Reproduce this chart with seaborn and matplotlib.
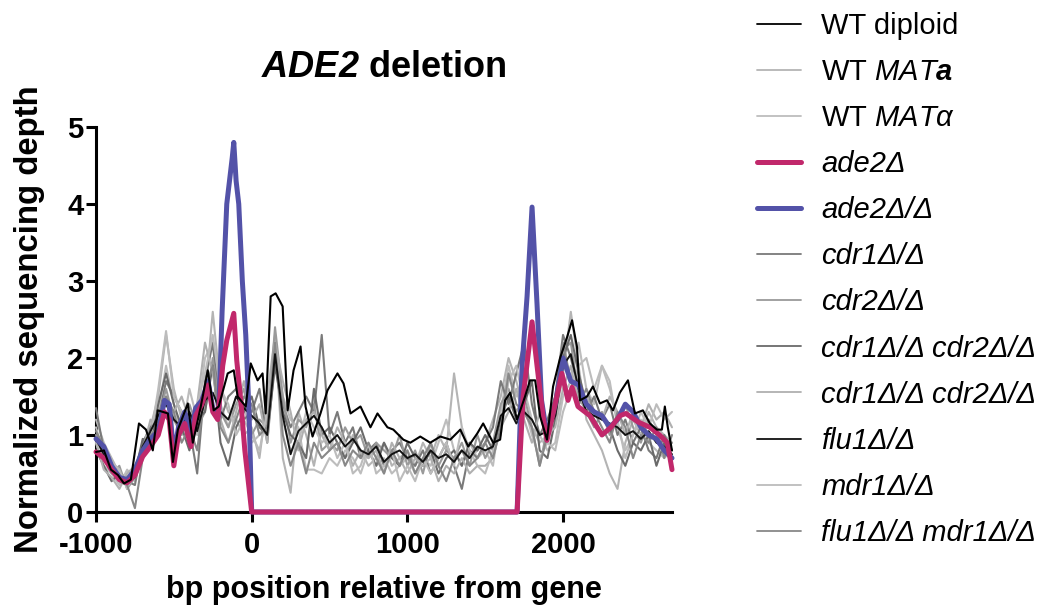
import numpy as np
import pandas as pd
import matplotlib
matplotlib.use("Agg")
import matplotlib.pyplot as plt
import seaborn as sns

sns.set_style("ticks")
plt.rcParams['font.family'] = ['Liberation Sans', 'DejaVu Sans']
plt.rcParams['mathtext.fontset'] = 'custom'
plt.rcParams['mathtext.rm'] = 'Liberation Sans'
plt.rcParams['mathtext.it'] = 'Liberation Sans:italic'
plt.rcParams['mathtext.bf'] = 'Liberation Sans:bold'
plt.rcParams['mathtext.bfit'] = 'Liberation Sans:bold:italic'
plt.rcParams['axes.unicode_minus'] = False
for key in ['text.color', 'axes.labelcolor', 'xtick.color', 'ytick.color', 'axes.edgecolor']:
    plt.rcParams[key] = 'black'

# ---------------- data ----------------
GRID = list(range(-1000, 2701, 50))  # 75 positions shared by the grey strains

WT_DIPLOID_POS = [-1000, -949, -904, -859, -820, -776, -724, -679, -635, -603,
                  -538, -506, -474, -410, -378, -327, -282, -244, -212, -154,
                  -115, -90, -38, -6, 38, 70, 90, 122, 154, 199,
                  231, 269, 314, 346, 391, 442, 487, 551, 590, 635,
                  699, 763, 808, 872, 910, 974, 1019, 1083, 1147, 1212,
                  1276, 1340, 1391, 1449, 1487, 1551, 1596, 1628, 1660, 1705,
                  1756, 1788, 1821, 1853, 1897, 1936, 1981, 2026, 2058, 2090,
                  2109, 2154, 2192, 2237, 2282, 2321, 2365, 2417, 2462, 2513,
                  2558, 2603, 2635, 2654, 2673, 2700]
WT_DIPLOID = [0.78, 0.80, 0.55, 0.48, 0.37, 0.42, 1.15, 1.07, 0.80, 1.32,
              1.28, 0.65, 1.07, 1.41, 0.90, 1.37, 1.84, 1.32, 1.37, 1.80,
              1.84, 1.50, 1.37, 1.93, 1.71, 1.80, 1.28, 2.80, 2.84, 2.67,
              1.32, 1.84, 2.15, 1.37, 0.98, 1.28, 1.58, 1.80, 1.67, 1.28,
              1.37, 1.10, 1.28, 1.10, 1.07, 0.94, 0.90, 0.98, 0.90, 0.98,
              0.94, 1.07, 0.85, 1.02, 1.15, 0.90, 0.94, 1.45, 1.55, 1.20,
              1.50, 1.71, 1.71, 1.24, 0.94, 1.63, 2.00, 2.27, 2.49, 2.14,
              1.45, 1.50, 1.63, 1.41, 1.45, 1.32, 1.55, 1.71, 1.28, 1.32,
              1.15, 1.07, 1.07, 1.37, 1.10, 0.80]

WT_MATA = [1.20, 0.90, 0.70, 0.50, 0.45, 0.55, 0.90, 1.10, 1.50, 2.30,
           1.60, 1.20, 1.30, 1.00, 1.50, 2.60, 1.60, 1.30, 1.20, 1.00,
           1.10, 0.70, 1.50, 2.30, 0.70, 0.25, 1.30, 1.00, 0.60, 1.10,
           0.80, 0.90, 0.70, 1.00, 0.80, 0.60, 0.70, 0.90, 0.60, 0.70,
           0.80, 0.60, 0.90, 0.70, 1.00, 0.80, 1.80, 1.10, 0.70, 0.80,
           0.90, 1.20, 1.50, 2.00, 1.70, 1.30, 1.10, 0.90, 1.00, 1.20,
           1.80, 2.60, 1.90, 1.20, 1.00, 0.80, 0.50, 0.30, 0.90, 1.20,
           1.00, 1.30, 1.10, 1.00, 0.90]
WT_MATALPHA = [0.90, 0.60, 0.50, 0.35, 0.55, 0.40, 0.80, 1.00, 1.30, 1.90,
               1.40, 1.00, 1.60, 1.20, 2.00, 2.20, 1.40, 1.10, 1.50, 1.40,
               0.90, 1.00, 1.20, 2.10, 1.50, 1.20, 1.10, 0.55, 0.55, 0.50,
               0.70, 0.60, 0.80, 0.70, 0.50, 0.80, 0.60, 0.70, 0.50, 0.60,
               0.70, 0.50, 0.70, 0.60, 0.90, 1.20, 0.80, 0.60, 0.90, 0.70,
               0.80, 0.60, 1.30, 1.90, 1.50, 1.60, 1.20, 1.00, 0.80, 0.90,
               1.50, 1.70, 2.20, 1.60, 1.40, 1.90, 1.70, 1.10, 0.80, 1.00,
               1.20, 0.90, 0.80, 0.70, 0.80]

ADE2_POS = [-1000, -950, -900, -850, -800, -750, -700, -650, -600, -560,
            -530, -500, -470, -430, -390, -360, -320, -280, -250, -218,
            -186, -160, -115, -96, -70, -44, 0, 1705, 1744, 1801,
            1833, 1872, 1897, 1936, 1993, 2032, 2058, 2096, 2173, 2250,
            2308, 2365, 2404, 2481, 2558, 2620, 2670, 2700]
ADE2 = [0.78, 0.70, 0.55, 0.42, 0.38, 0.48, 0.72, 0.85, 1.00, 1.30,
        1.20, 0.60, 1.00, 1.15, 0.85, 1.25, 1.40, 1.65, 1.30, 1.20,
        1.90, 2.23, 2.58, 1.97, 1.45, 0.80, 0.00, 0.00, 1.50, 2.47,
        1.90, 1.23, 0.93, 1.28, 1.80, 1.45, 1.62, 1.37, 1.25, 1.00,
        1.10, 1.25, 1.28, 1.17, 1.10, 1.00, 0.90, 0.55]

ADE2_HOM_POS = [-1000, -950, -900, -850, -800, -750, -700, -650, -600, -560,
                -530, -500, -470, -430, -390, -360, -320, -280, -250, -212,
                -190, -160, -125, -115, -100, -83, -60, -38, -17, 0,
                1705, 1737, 1769, 1801, 1833, 1862, 1897, 1950, 2000, 2050,
                2100, 2150, 2200, 2250, 2300, 2350, 2400, 2450, 2500, 2550,
                2600, 2650, 2700]
ADE2_HOM = [0.95, 0.85, 0.60, 0.45, 0.42, 0.55, 0.80, 0.95, 1.05, 1.45,
            1.40, 0.75, 1.10, 1.30, 1.00, 1.35, 1.45, 1.70, 1.35, 1.25,
            2.60, 4.00, 4.60, 4.80, 4.30, 4.00, 3.00, 2.30, 1.30, 0.00,
            0.00, 1.90, 2.80, 3.96, 2.70, 1.45, 1.00, 1.40, 2.00, 1.70,
            1.65, 1.40, 1.30, 1.25, 1.10, 1.20, 1.40, 1.30, 1.10, 1.00,
            0.95, 0.80, 0.70]

CDR1 = [1.35, 0.80, 0.60, 0.45, 0.40, 0.35, 0.90, 1.10, 1.20, 1.70,
        1.50, 1.30, 1.10, 0.50, 1.70, 2.20, 1.20, 1.50, 1.60, 1.20,
        1.30, 1.60, 0.90, 2.00, 1.40, 1.10, 1.30, 1.50, 1.30, 2.30,
        1.00, 1.30, 0.90, 1.10, 0.70, 0.80, 0.90, 0.60, 0.80, 0.90,
        0.70, 0.60, 0.80, 0.50, 0.70, 0.90, 0.60, 0.30, 0.80, 0.70,
        0.90, 1.10, 1.70, 1.40, 1.80, 2.20, 1.40, 1.00, 1.20, 1.50,
        2.30, 2.00, 1.60, 1.30, 1.50, 1.20, 1.40, 1.00, 1.20, 0.90,
        1.10, 0.80, 0.70, 1.00, 0.80]
CDR2 = [1.00, 0.70, 0.50, 0.60, 0.30, 0.45, 0.70, 1.00, 1.20, 1.60,
        1.20, 1.00, 1.40, 1.10, 1.30, 2.00, 1.30, 1.10, 1.40, 1.60,
        1.00, 1.20, 1.10, 2.40, 1.50, 0.90, 1.20, 1.10, 1.40, 0.80,
        0.90, 0.80, 1.10, 0.90, 1.00, 0.70, 0.90, 0.80, 0.70, 1.00,
        0.60, 0.80, 0.50, 0.90, 0.60, 0.80, 0.70, 0.90, 0.60, 1.00,
        0.70, 0.90, 1.40, 1.60, 1.30, 1.50, 1.10, 0.60, 1.10, 1.30,
        2.10, 2.20, 1.50, 1.30, 1.10, 1.30, 1.00, 1.20, 1.40, 1.10,
        0.90, 1.20, 1.00, 0.80, 0.90]
CDR1_CDR2_A = [0.80, 0.60, 0.40, 0.50, 0.35, 0.50, 0.95, 0.90, 1.40, 1.80,
               1.40, 1.10, 0.80, 1.20, 1.30, 1.90, 0.90, 0.60, 1.10, 1.30,
               1.50, 1.10, 1.00, 1.90, 1.30, 1.00, 0.90, 0.70, 1.60, 1.00,
               1.10, 0.90, 0.70, 0.90, 1.10, 0.80, 0.60, 0.90, 0.70, 0.60,
               0.90, 0.70, 0.60, 0.80, 0.50, 0.70, 0.80, 0.60, 0.90, 0.80,
               1.00, 0.80, 1.20, 1.50, 1.20, 1.40, 1.70, 0.80, 0.70, 1.20,
               2.00, 2.30, 1.80, 1.40, 1.20, 1.00, 1.10, 0.80, 0.60, 0.90,
               0.80, 1.00, 0.60, 0.90, 0.70]
CDR1_CDR2_B = [0.90, 0.55, 0.45, 0.30, 0.50, 0.60, 0.80, 1.20, 1.10, 1.50,
               1.30, 1.50, 1.20, 1.40, 2.20, 1.80, 1.20, 0.90, 1.30, 1.70,
               1.20, 1.40, 0.90, 2.20, 1.70, 1.30, 0.80, 1.20, 1.30, 1.00,
               0.80, 1.10, 0.90, 0.60, 0.80, 0.70, 0.80, 0.50, 0.90, 0.70,
               0.50, 0.70, 0.60, 0.70, 0.40, 0.60, 0.50, 0.70, 0.50, 0.60,
               0.60, 0.70, 1.10, 1.30, 1.60, 1.20, 0.90, 1.30, 1.00, 1.10,
               1.60, 1.90, 1.40, 1.50, 1.30, 1.20, 1.50, 1.30, 1.00, 1.30,
               1.10, 1.40, 1.20, 1.30, 1.10]
FLU1 = [0.95, 0.75, 0.55, 0.45, 0.40, 0.45, 0.85, 1.05, 1.25, 1.40,
        1.20, 1.10, 1.30, 1.05, 1.45, 1.55, 1.30, 1.20, 1.50, 1.35,
        1.25, 1.15, 1.00, 2.05, 1.25, 0.75, 1.05, 1.15, 1.25, 1.10,
        0.90, 1.00, 0.85, 0.95, 0.80, 0.75, 0.85, 0.65, 0.75, 0.80,
        0.70, 0.75, 0.65, 0.80, 0.70, 0.75, 0.65, 0.80, 0.70, 0.85,
        0.80, 0.85, 1.25, 1.35, 1.15, 1.30, 1.20, 1.00, 1.05, 1.25,
        1.90, 2.05, 1.60, 1.30, 1.25, 1.20, 1.15, 1.10, 1.00, 1.05,
        0.95, 1.05, 0.90, 0.85, 0.75]
MDR1 = [1.10, 0.75, 0.65, 0.55, 0.30, 0.55, 0.75, 0.95, 1.60, 2.35,
        1.50, 1.30, 1.00, 1.40, 1.80, 2.30, 1.60, 1.40, 1.00, 1.20,
        1.00, 0.80, 1.30, 2.20, 1.20, 0.80, 0.90, 1.30, 1.10, 0.90,
        1.00, 0.70, 0.90, 0.50, 0.60, 0.90, 0.50, 0.60, 0.80, 0.40,
        0.60, 0.40, 0.70, 0.50, 0.70, 0.90, 0.60, 1.10, 0.80, 0.60,
        0.50, 0.80, 1.00, 1.70, 1.90, 1.40, 1.00, 0.70, 0.90, 0.80,
        1.30, 1.60, 1.90, 2.00, 1.60, 1.90, 1.60, 1.20, 0.70, 1.00,
        1.30, 1.10, 1.40, 1.20, 1.30]
FLU1_MDR1 = [1.05, 0.85, 0.60, 0.40, 0.35, 0.05, 0.70, 1.00, 1.10, 1.50,
             1.30, 0.90, 1.10, 0.80, 1.60, 1.90, 1.10, 0.90, 1.20, 1.50,
             1.40, 1.00, 1.10, 2.20, 1.00, 0.60, 0.90, 0.50, 0.90, 0.70,
             0.80, 0.90, 0.60, 0.80, 0.70, 0.90, 0.70, 0.50, 0.80, 0.60,
             0.80, 0.50, 0.70, 0.90, 0.60, 0.40, 0.70, 0.80, 0.60, 0.70,
             0.90, 0.70, 1.10, 1.80, 1.40, 1.30, 1.10, 0.60, 1.00, 1.40,
             2.20, 1.70, 1.40, 1.60, 1.30, 1.10, 0.90, 1.30, 1.10, 0.70,
             1.00, 0.90, 1.10, 0.70, 1.00]

LABELS = ["WT diploid",
          r"WT $\mathit{MAT}\mathbfit{a}$",
          r"WT $\mathit{MAT}$$\mathit{α}$",
          "ade2Δ", "ade2Δ/Δ", "cdr1Δ/Δ", "cdr2Δ/Δ",
          "cdr1Δ/Δ cdr2Δ/Δ", "cdr1Δ/Δ cdr2Δ/Δ",
          "flu1Δ/Δ", "mdr1Δ/Δ", "flu1Δ/Δ mdr1Δ/Δ"]

SERIES = [(WT_DIPLOID_POS, WT_DIPLOID), (GRID, WT_MATA), (GRID, WT_MATALPHA),
          (ADE2_POS, ADE2), (ADE2_HOM_POS, ADE2_HOM), (GRID, CDR1), (GRID, CDR2),
          (GRID, CDR1_CDR2_A), (GRID, CDR1_CDR2_B), (GRID, FLU1), (GRID, MDR1),
          (GRID, FLU1_MDR1)]

COLORS = ["#000000", "#b4b4b4", "#bdbdbd", "#c1286b", "#5352a8", "#7a7a7a",
          "#9a9a9a", "#6a6a6a", "#b0b0b0", "#111111", "#bcbcbc", "#888888"]
WIDTHS = [1.5, 1.5, 1.5, 3.6, 3.6, 1.5, 1.5, 1.5, 1.5, 1.4, 1.5, 1.5]
ZORD = [6, 2, 2, 5, 4, 2, 2, 2, 2, 3, 2, 2]
ITALIC = [False, False, False, True, True, True, True, True, True, True, True, True]

# ---------------- figure ----------------
fig = plt.figure(figsize=(10.49, 6.07), dpi=100)
ax = fig.add_axes([96 / 1049, 1 - 512 / 607, 576 / 1049, 385 / 607])

handles = []
for (pos, vals), lab, col, lw, z in zip(SERIES, LABELS, COLORS, WIDTHS, ZORD):
    df = pd.DataFrame({"pos": pos, "depth": vals})
    sns.lineplot(data=df, x="pos", y="depth", ax=ax, color=col, linewidth=lw,
                 zorder=z, legend=False, estimator=None, sort=False)
    line = ax.lines[-1]
    line.set_clip_on(False)
    line.set_solid_joinstyle('round')
    handles.append(line)

ax.set_xlim(-1000, 2700)
ax.set_ylim(0, 5)
ax.set_xticks([-1000, 0, 1000, 2000])
ax.set_yticks([0, 1, 2, 3, 4, 5])
for sp in ["top", "right"]:
    ax.spines[sp].set_visible(False)
for sp in ["left", "bottom"]:
    ax.spines[sp].set_linewidth(2.2)
    ax.spines[sp].set_zorder(1)
ax.tick_params(axis="both", length=7, width=2.2, labelsize=21, color="black",
               labelcolor="black")
ax.tick_params(axis="x", pad=7)
ax.tick_params(axis="y", pad=2)
for t in ax.get_xticklabels() + ax.get_yticklabels():
    t.set_fontweight("bold")

ax.set_xlabel("bp position relative from gene", fontsize=22, fontweight="bold", labelpad=11)
ax.set_ylabel("Normalized sequencing depth", fontsize=23.7, fontweight="bold", labelpad=16)
ax.set_title(r"$\mathbfit{ADE2}$ deletion", fontsize=26, fontweight="bold", pad=36)

leg = fig.legend(handles, LABELS, loc="upper left", bbox_to_anchor=(757 / 1049, 1 - 12 / 607),
                 frameon=False, fontsize=21, handlelength=1.5, handletextpad=0.7,
                 labelspacing=0.62, borderpad=0, borderaxespad=0)
for txt, it in zip(leg.get_texts(), ITALIC):
    txt.set_color("black")
    if it:
        txt.set_fontstyle("italic")
for h, lw in zip(leg.legend_handles, WIDTHS):
    h.set_linewidth(lw if lw > 2 else 1.3)
    h.set_solid_capstyle('round')

fig.savefig("out.png", dpi=100)
